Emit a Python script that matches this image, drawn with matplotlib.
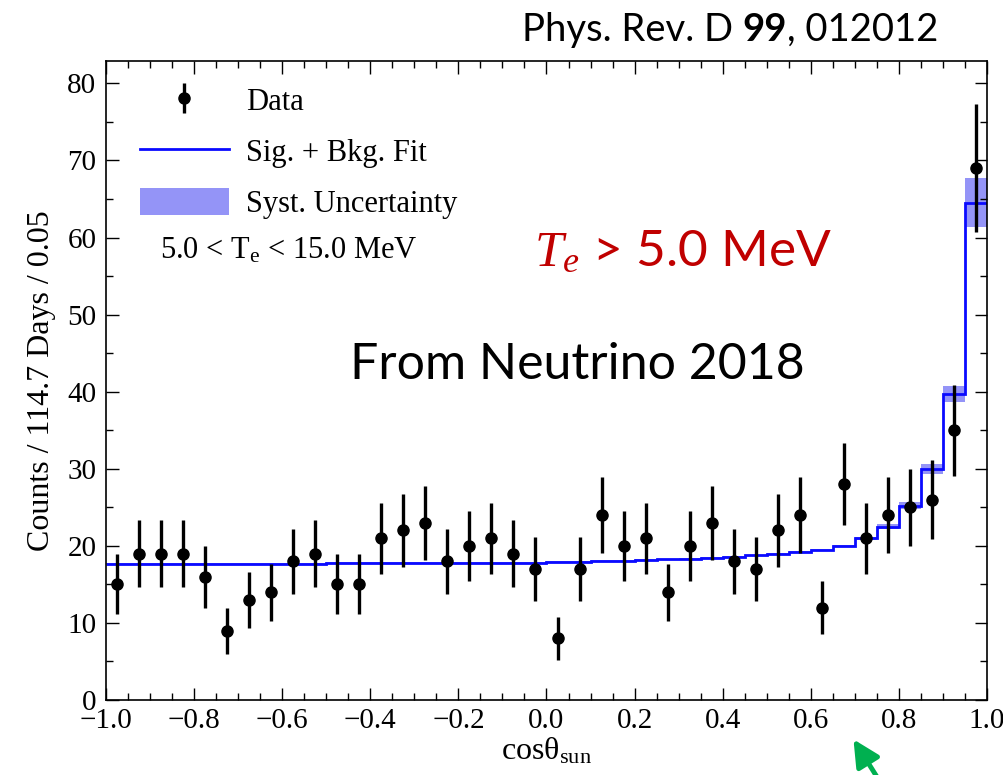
import numpy as np
import matplotlib
matplotlib.use("Agg")
import matplotlib.pyplot as plt
from matplotlib.lines import Line2D
from matplotlib.patches import Patch, FancyArrowPatch
from matplotlib.ticker import MultipleLocator

plt.rcParams['font.family'] = ['Liberation Serif', 'DejaVu Serif']
plt.rcParams['mathtext.fontset'] = 'custom'
plt.rcParams['mathtext.rm'] = 'Liberation Serif'
plt.rcParams['mathtext.it'] = 'Liberation Serif:italic'

# ---- data ----
bin_edges = np.linspace(-1.0, 1.0, 41)
bin_centers = [-0.975, -0.925, -0.875, -0.825, -0.775, -0.725, -0.675, -0.625,
               -0.575, -0.525, -0.475, -0.425, -0.375, -0.325, -0.275, -0.225,
               -0.175, -0.125, -0.075, -0.025, 0.025, 0.075, 0.125, 0.175,
               0.225, 0.275, 0.325, 0.375, 0.425, 0.475, 0.525, 0.575,
               0.625, 0.675, 0.725, 0.775, 0.825, 0.875, 0.925, 0.975]
counts = [15, 19, 19, 19, 16, 9, 13, 14, 18, 19, 15, 15, 21, 22, 23, 18,
          20, 21, 19, 17, 8, 17, 24, 20, 21, 14, 20, 23, 18, 17, 22, 24,
          12, 28, 21, 24, 25, 26, 35, 69]
count_err = [3.9, 4.4, 4.4, 4.4, 4.0, 3.0, 3.6, 3.7, 4.2, 4.4, 3.9, 3.9,
             4.6, 4.7, 4.8, 4.2, 4.5, 4.6, 4.4, 4.1, 2.8, 4.1, 4.9, 4.5,
             4.6, 3.7, 4.5, 4.8, 4.2, 4.1, 4.7, 4.9, 3.5, 5.3, 4.6, 4.9,
             5.0, 5.1, 5.9, 8.3]
fit = [17.7, 17.7, 17.7, 17.7, 17.7, 17.7, 17.7, 17.7, 17.7, 17.7,
       17.75, 17.75, 17.75, 17.75, 17.75, 17.75, 17.8, 17.8, 17.8, 17.8,
       17.9, 17.95, 18.0, 18.05, 18.15, 18.25, 18.35, 18.45, 18.6, 18.75,
       19.0, 19.25, 19.5, 20.0, 21.0, 22.5, 25.2, 30.0, 39.7, 64.5]
syst = [0.1] * 33 + [0.15, 0.2, 0.3, 0.45, 0.65, 1.1, 3.2]

x_ticks = [-1.0, -0.8, -0.6, -0.4, -0.2, 0.0, 0.2, 0.4, 0.6, 0.8, 1.0]
y_ticks = [0, 10, 20, 30, 40, 50, 60, 70, 80]

band_color = '#9494f7'
line_color = '#0a0aff'

fig = plt.figure(figsize=(10.04, 7.75), dpi=100)
ax = fig.add_axes([106/1004, 1-700/775, 881/1004, 639/775])

fit_arr = np.array(fit)
syst_arr = np.array(syst)
ax.stairs(fit_arr + syst_arr, bin_edges, baseline=fit_arr - syst_arr,
          fill=True, color=band_color, lw=0, zorder=1)
ax.stairs(fit_arr, bin_edges, baseline=None, color=line_color, lw=2.0,
          zorder=2)
eb = ax.errorbar(bin_centers, counts, yerr=count_err, fmt='o', color='black',
                 ms=8, elinewidth=2.4, capsize=0, zorder=3)

ax.set_xlim(-1.0, 1.0)
ax.set_ylim(0, 82.9)
ax.set_xticks(x_ticks)
ax.set_xticklabels([f"{t:.1f}".replace('-', '\u2212') for t in x_ticks])
ax.set_yticks(y_ticks)
ax.xaxis.set_minor_locator(MultipleLocator(0.05))
ax.yaxis.set_minor_locator(MultipleLocator(5))
ax.tick_params(which='both', direction='in', top=True, right=True,
               labelsize=21, width=1.0)
ax.tick_params(which='major', length=9)
ax.tick_params(which='minor', length=5)
ax.tick_params(axis='y', pad=7)
ax.tick_params(axis='x', pad=6)
for s in ax.spines.values():
    s.set_linewidth(1.2)

ax.set_xlabel('cosθ$_{\\rm sun}$', fontsize=23, labelpad=1)
ax.set_ylabel('Counts / 114.7 Days / 0.05', fontsize=23, labelpad=8)

handles = [eb,
           Line2D([], [], color=line_color, lw=2.0),
           Patch(facecolor=band_color, edgecolor='none')]
labels = ['Data', 'Sig. + Bkg. Fit', 'Syst. Uncertainty']
leg = ax.legend(handles, labels, loc='upper left', frameon=False, fontsize=22,
                handlelength=2.9, handleheight=1.0, handletextpad=0.55,
                labelspacing=0.65, bbox_to_anchor=(0.018, 0.99),
                borderaxespad=0.2)

ax.text(0.061, 0.703, '5.0 < T$_{\\rm e}$ < 15.0 MeV', transform=ax.transAxes,
        fontsize=22, ha='left', va='center')

ax.text(0.655, 0.701, '$T_e$ > 5.0 MeV', transform=ax.transAxes,
        fontsize=37, color='#c00000', ha='center', va='center',
        family=['Lato', 'DejaVu Sans'])
ax.text(0.535, 0.524, 'From Neutrino 2018', transform=ax.transAxes,
        fontsize=36, color='black', ha='center', va='center',
        family=['Lato', 'DejaVu Sans'])

# header text with bold volume number
fig.canvas.draw()
r = fig.canvas.get_renderer()
y_hdr = 1 - 30/775
t1 = fig.text(522/1004, y_hdr, 'Phys. Rev. D ', fontsize=27.5,
              family=['Lato', 'DejaVu Sans'], va='center', ha='left')
bb = t1.get_window_extent(r)
t2 = fig.text(bb.x1/1004, y_hdr, '99', fontsize=27.5, fontweight='bold',
              family=['Lato', 'DejaVu Sans'], va='center', ha='left')
bb2 = t2.get_window_extent(r)
fig.text(bb2.x1/1004, y_hdr, ', 012012', fontsize=27.5,
         family=['Lato', 'DejaVu Sans'], va='center', ha='left')

arrow = FancyArrowPatch((882/1004, -10/775), (852/1004, 1-737/775),
                        transform=fig.transFigure, arrowstyle='-|>',
                        mutation_scale=40, color='#00b050', lw=3.5)
fig.add_artist(arrow)

fig.savefig('out.png', dpi=100)
